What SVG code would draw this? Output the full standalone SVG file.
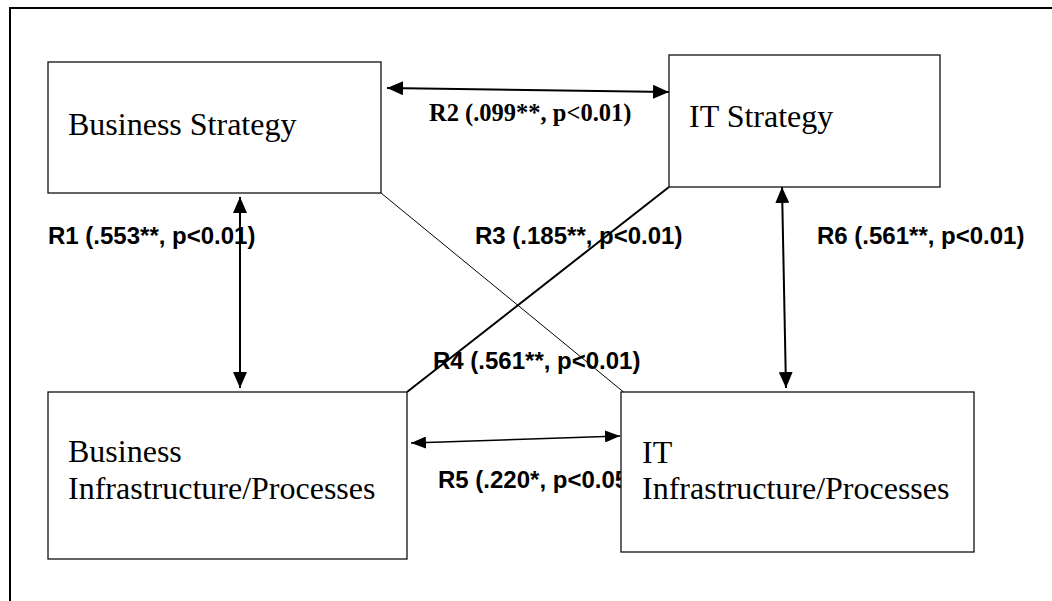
<svg xmlns="http://www.w3.org/2000/svg" width="1052" height="601" viewBox="0 0 1052 601">
  <defs>
    <marker id="head" viewBox="0 0 16 14" refX="16" refY="7" markerWidth="16" markerHeight="14" markerUnits="userSpaceOnUse" orient="auto-start-reverse">
      <path d="M0,0 L16,7 L0,14 z" fill="#000"/>
    </marker>
    <marker id="headSmall" viewBox="0 0 15 12" refX="15" refY="6" markerWidth="15" markerHeight="12" markerUnits="userSpaceOnUse" orient="auto-start-reverse">
      <path d="M0,0 L15,6 L0,12 z" fill="#000"/>
    </marker>
  </defs>
  <style>
    .box { fill: #fff; stroke: #111; stroke-width: 1.3; }
    .node-text { font-family: "Liberation Serif", "Times New Roman", serif; font-size: 32px; fill: #000; }
    .lbl { font-family: "Liberation Sans", Arial, sans-serif; font-size: 24px; font-weight: bold; fill: #000; }
    .lbl-serif { font-family: "Liberation Serif", "Times New Roman", serif; font-size: 24.5px; font-weight: bold; fill: #000; }
    .conn { fill: none; stroke: #000; }
  </style>

  <rect width="1052" height="601" fill="#fff"/>

  <!-- frame -->
  <path d="M10,601 L10,8 L1052,8" fill="none" stroke="#000" stroke-width="2"/>

  <!-- relationship labels -->
  <g id="labels">
    <text class="lbl-serif" x="429" y="121">R2 (.099**, p&lt;0.01)</text>
    <text class="lbl" x="48" y="244">R1 (.553**, p&lt;0.01)</text>
    <text class="lbl" x="475" y="244">R3 (.185**, p&lt;0.01)</text>
    <text class="lbl" x="817" y="244">R6 (.561**, p&lt;0.01)</text>
    <text class="lbl" x="433" y="369">R4 (.561**, p&lt;0.01)</text>
    <text class="lbl" x="438" y="488">R5 (.220*, p&lt;0.05)</text>
  </g>

  <!-- connectors -->
  <g id="connectors">
    <line class="conn" x1="387" y1="88" x2="669" y2="92" stroke-width="2" marker-start="url(#head)" marker-end="url(#head)"/>
    <line class="conn" x1="240" y1="197" x2="240" y2="388" stroke-width="2" marker-start="url(#head)" marker-end="url(#head)"/>
    <line class="conn" x1="782" y1="187" x2="786" y2="388" stroke-width="2" marker-start="url(#head)" marker-end="url(#head)"/>
    <line class="conn" x1="381" y1="193" x2="626" y2="394" stroke-width="1"/>
    <line class="conn" x1="669" y1="187" x2="407" y2="392" stroke-width="2"/>
    <line class="conn" x1="411" y1="443" x2="620" y2="436" stroke-width="1.4" marker-start="url(#headSmall)" marker-end="url(#headSmall)"/>
  </g>

  <!-- nodes -->
  <g id="business-strategy">
    <rect class="box" x="48" y="62" width="333" height="131"/>
    <text class="node-text" x="68" y="135">Business Strategy</text>
  </g>

  <g id="it-strategy">
    <rect class="box" x="669" y="55" width="271" height="132"/>
    <text class="node-text" x="689" y="127">IT Strategy</text>
  </g>

  <g id="business-infrastructure">
    <rect class="box" x="48" y="392" width="359" height="167"/>
    <text class="node-text" x="68" y="462">Business</text>
    <text class="node-text" x="68" y="499">Infrastructure/Processes</text>
  </g>

  <g id="it-infrastructure">
    <rect class="box" x="621" y="392" width="353" height="160"/>
    <text class="node-text" x="642" y="463">IT</text>
    <text class="node-text" x="642" y="499">Infrastructure/Processes</text>
  </g>
</svg>
